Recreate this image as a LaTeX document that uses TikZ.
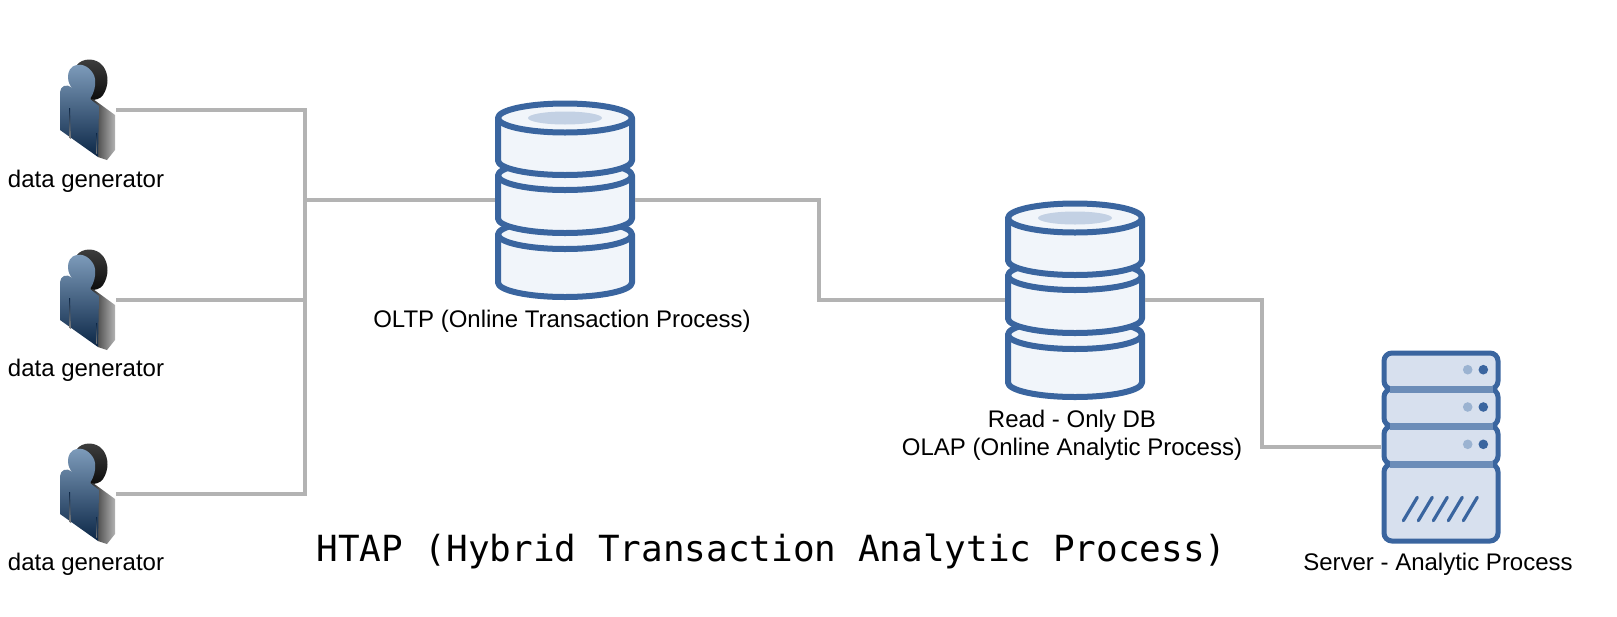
\documentclass[tikz,border=0pt]{standalone}
\usepackage{fontspec}
\setmainfont{Liberation Sans}
\newfontfamily\titlefont{DejaVu Sans Mono}
\usetikzlibrary{positioning, calc}
\definecolor{dbblue}{HTML}{3A659F}
\definecolor{dbfill}{HTML}{F1F5FA}
\definecolor{dbspot}{HTML}{C3D1E4}
\definecolor{srvfill}{HTML}{D7E0EE}
\definecolor{srvband}{HTML}{6C8DB8}
\definecolor{srvdot}{HTML}{9BB3D1}
\definecolor{wiregray}{HTML}{B3B3B3}
\definecolor{personTop}{HTML}{7F9DBC}
\definecolor{personBot}{HTML}{0C2747}
\tikzset{
  wire/.style={draw=wiregray, line width=2pt},
  iconbox/.style={inner sep=0pt, outer sep=0pt},
  lbl/.style={inner sep=0pt, align=center, font=\fontsize{12}{14}\selectfont},
  disc/.style={draw=dbblue, fill=dbfill, line width=3pt, line join=round},
  srvunit/.style={draw=dbblue, fill=srvfill, line width=2.5pt, rounded corners=4pt},
  person/.pic={
    % back of the head
    \shade[top color=black!75, bottom color=black!95]
      (-11,-45) .. controls (-6,-52) and (8,-53) .. (15,-44)
      .. controls (21,-36) and (21,-24) .. (15,-15)
      .. controls (12,-11) and (8,-10) .. (3,-10) -- cycle;
    % side of the body
    \shade[left color=black!85, right color=black!30]
      (2,-11) -- (5,-11) -- (27,5) -- (27,40) -- (19,50) -- (10,47) -- (10,-3) -- cycle;
    % front
    \shade[top color=personTop, bottom color=personBot]
      (-11,-45) .. controls (-18,-44) and (-20,-38) .. (-20,-33)
      .. controls (-20,-28) and (-18,-24) .. (-15,-21)
      .. controls (-19,-25) and (-22,-25) .. (-24,-24)
      .. controls (-26,-23) and (-28,-21) .. (-28,-18)
      -- (-28,20) -- (10,47) -- (11,-4) -- (2,-11)
      .. controls (6,-17) and (8,-24) .. (7,-31)
      .. controls (6,-39) and (-3,-47) .. (-11,-45) -- cycle;
    % arm slits
    \shade[top color=personBot, bottom color=black!50]
      (-19,-2) -- (-18,-2) -- (-17,29) -- (-18.5,28) -- cycle;
    \shade[top color=personBot, bottom color=black!50]
      (8,23) -- (9,23) -- (9,44) -- (8,43) -- cycle;
  },
  database/.pic={
    \foreach \yc/\hh in {34.5/48, -24.5/43, -82/42.5} {
      \path[disc] (-67,\yc) -- (-67,\yc+\hh)
        arc[start angle=180, end angle=0, x radius=67, y radius=14.5]
        -- (67,\yc)
        arc[start angle=0, end angle=-180, x radius=67, y radius=14.5] -- cycle;
      \draw[disc, fill=none] (-67,\yc)
        arc[start angle=180, end angle=0, x radius=67, y radius=14.5];
    }
    \fill[dbspot] (0,-82) ellipse[x radius=37, y radius=6.5];
  },
  server/.pic={
    \draw[srvunit] (-57,-94) rectangle (57,-58);
    \draw[srvunit] (-57,-58) rectangle (57,-21);
    \draw[srvunit] (-57,-21) rectangle (57,17);
    \draw[srvunit] (-57,17) rectangle (57,94);
    \foreach \yb in {-58,-21,17} {
      \fill[srvband] (-51,\yb-3.5) rectangle (52,\yb+3.5);
    }
    \foreach \yd in {-77.3,-40,-2.7} {
      \fill[srvdot] (26.7,\yd) circle[radius=2.4pt];
      \fill[dbblue] (42.3,\yd) circle[radius=2.4pt];
    }
    \foreach \xs in {0,15,30,45,60} {
      \draw[dbblue, line width=1.6pt, line cap=round]
        (-37.7+\xs,73.7) -- (-23.7+\xs,50.3);
    }
  }
}

\begin{document}
\begin{tikzpicture}[x=0.5pt, y=-0.5pt, node distance=0pt]
  \useasboundingbox (0,0) rectangle (1617,616);

  % icons
  \node[iconbox, minimum width=28pt, minimum height=50pt] (gen1) at (88,110) {};
  \node[iconbox, minimum width=28pt, minimum height=50pt] (gen2) at (88,300) {};
  \node[iconbox, minimum width=28pt, minimum height=50pt] (gen3) at (88,494) {};
  \node[iconbox, minimum width=70pt, minimum height=100pt] (oltp) at (565,200) {};
  \node[iconbox, minimum width=70pt, minimum height=100pt] (olap) at (1075,300) {};
  \node[iconbox, minimum width=60pt, minimum height=97pt] (srv) at (1441,447) {};
  \pic at (gen1) {person};
  \pic at (gen2) {person};
  \pic at (gen3) {person};
  \pic at (oltp) {database};
  \pic at (olap) {database};
  \pic at (srv) {server};

  % labels
  \node[lbl, below=5pt of gen1, xshift=-1pt] {data generator};
  \node[lbl, below=4.5pt of gen2, xshift=-1pt] {data generator};
  \node[lbl, below=4.5pt of gen3, xshift=-1pt] {data generator};
  \node[lbl, below=5pt of oltp, xshift=-1.5pt] {OLTP (Online Transaction Process)};
  \node[lbl, below=4.7pt of olap, xshift=-1.5pt] {Read - Only DB\\OLAP (Online Analytic Process)};
  \node[lbl, below=4.5pt of srv, xshift=-1.5pt] {Server - Analytic Process};
  \node[inner sep=0pt, font=\titlefont\fontsize{18}{22}\selectfont] (title) at (771.5,551)
    {HTAP (Hybrid Transaction Analytic Process)};

  % connectors
  \coordinate (bus) at (305,200);
  \coordinate (jog1) at (819,250);
  \coordinate (jog2) at (1262,370);
  \draw[wire] (gen1.east) -| (bus);
  \draw[wire] (gen3.east) -| (bus);
  \draw[wire] (gen2.east) -- (gen2.east -| bus);
  \draw[wire] (bus) -- (oltp.west);
  \draw[wire] (oltp.east) -| (jog1) |- (olap.west);
  \draw[wire] (olap.east) -| (jog2) |- (srv.west);
\end{tikzpicture}
\end{document}
